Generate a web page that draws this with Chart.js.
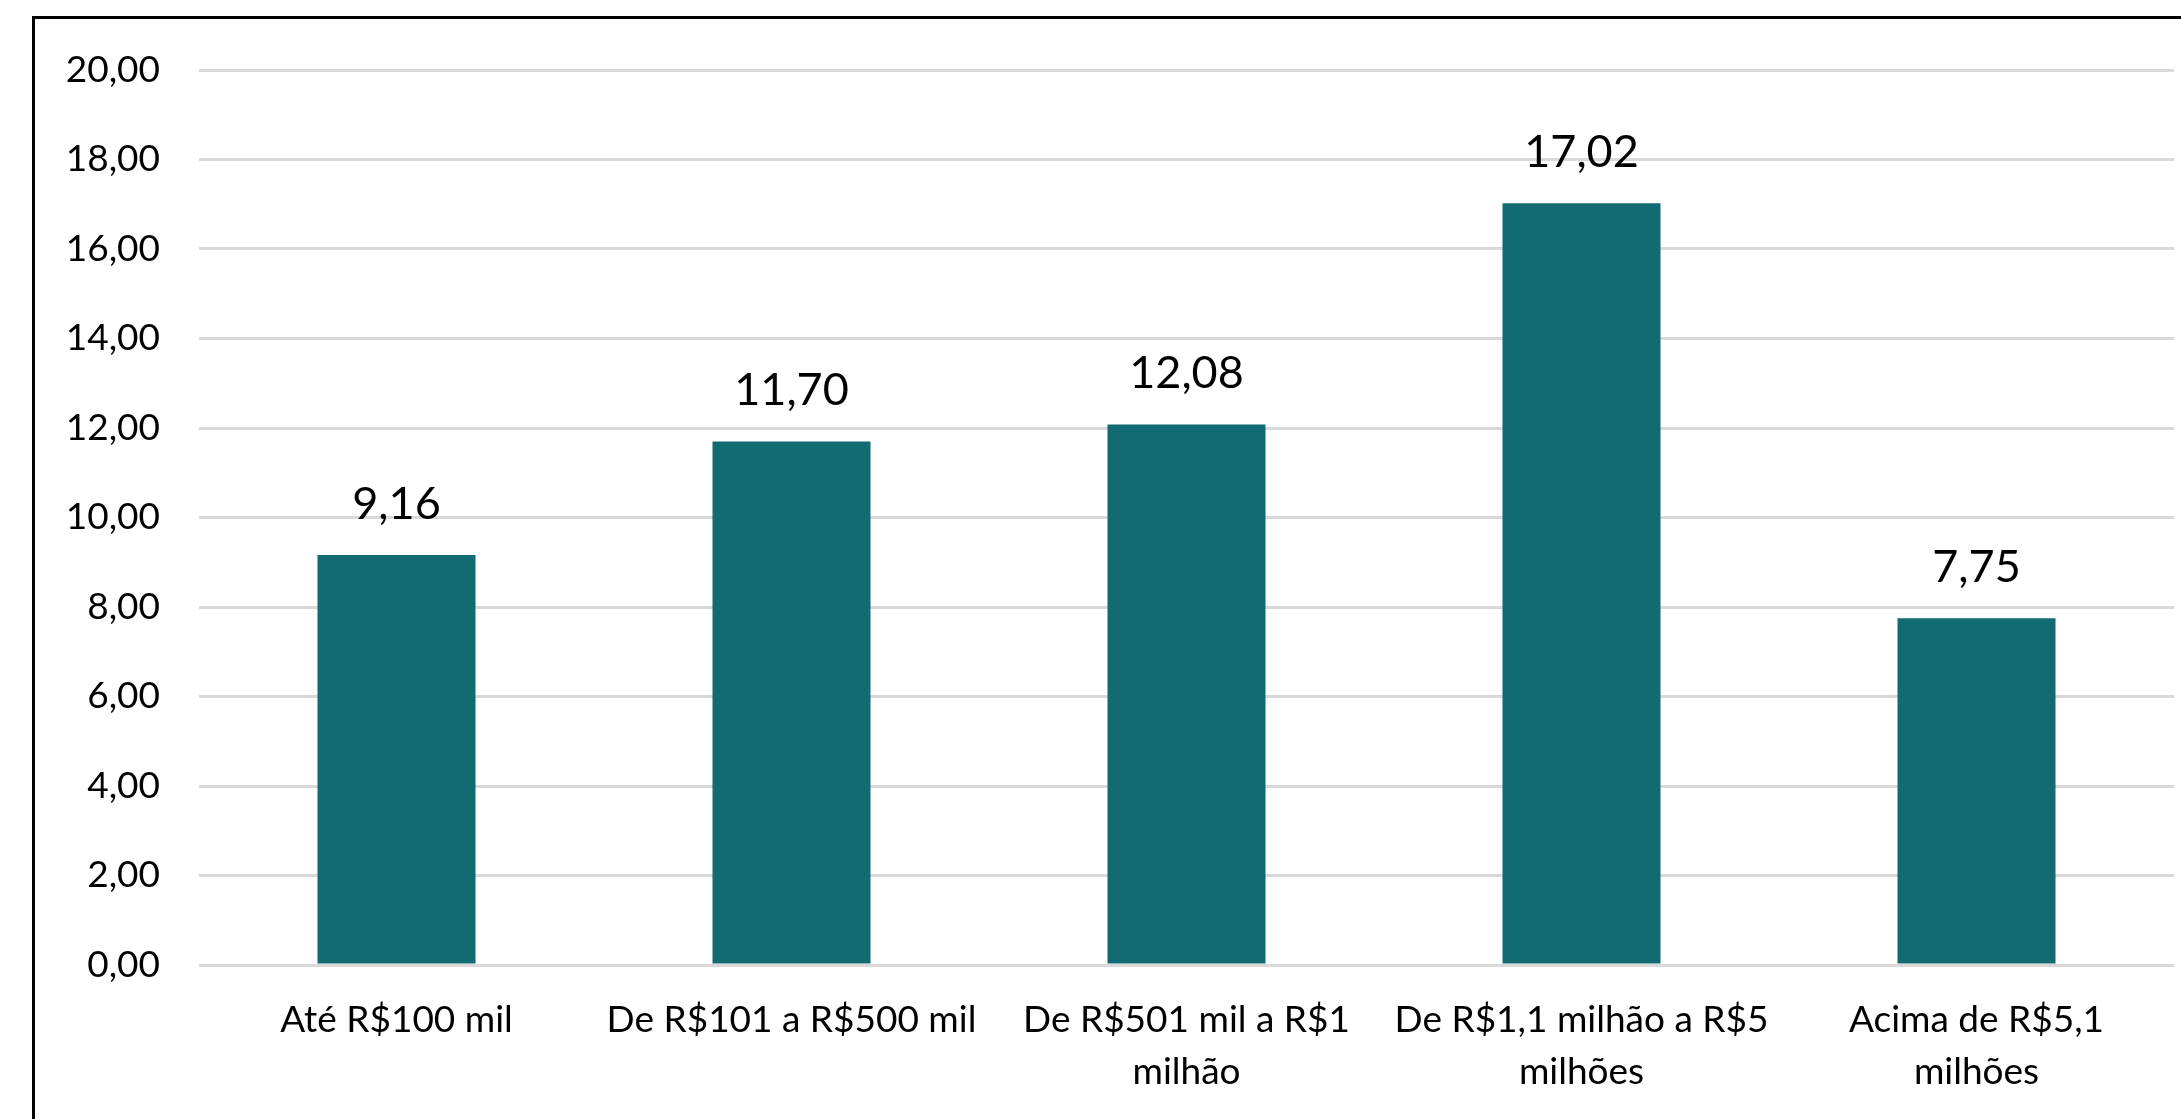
<!DOCTYPE html>
<html>
<head>
<meta charset="utf-8">
<script src="https://cdn.jsdelivr.net/npm/chart.js@4.4.1/dist/chart.umd.min.js"></script>
<style>
  html, body { margin: 0; padding: 0; background: #ffffff; }
  #wrap { width: 2181px; height: 1119px; position: relative; }
</style>
</head>
<body>
<div id="wrap"><canvas id="c" width="2181" height="1119"></canvas></div>
<script>
// Faixas de faturamento e valores do indicador
const categories = [
  'Até R$100 mil',
  'De R$101 a R$500 mil',
  ['De R$501 mil a R$1', 'milhão'],
  ['De R$1,1 milhão a R$5', 'milhões'],
  ['Acima de R$5,1', 'milhões']
];
const values = [9.16, 11.70, 12.08, 17.02, 7.75];
const yTicks = [0, 2, 4, 6, 8, 10, 12, 14, 16, 18, 20];

const fmt = v => v.toFixed(2).replace('.', ',');
const FONT = 'Lato, "Open Sans", sans-serif';

// Moldura do gráfico (cantos superior e esquerdo)
const framePlugin = {
  id: 'frame',
  afterDraw(chart) {
    const ctx = chart.ctx;
    ctx.save();
    ctx.strokeStyle = '#000000';
    ctx.lineWidth = 3;
    ctx.strokeRect(33.5, 17.5, chart.width + 20, chart.height + 20);
    ctx.restore();
  }
};

// Rótulos de valor acima de cada barra
const valueLabels = {
  id: 'valueLabels',
  afterDatasetsDraw(chart) {
    const ctx = chart.ctx;
    const meta = chart.getDatasetMeta(0);
    ctx.save();
    ctx.font = '45px ' + FONT;
    ctx.fillStyle = '#000000';
    ctx.textAlign = 'center';
    ctx.textBaseline = 'middle';
    meta.data.forEach((bar, i) => {
      ctx.fillText(fmt(values[i]), bar.x, bar.y - 51);
    });
    ctx.restore();
  }
};

new Chart(document.getElementById('c'), {
  type: 'bar',
  data: {
    labels: categories,
    datasets: [{
      data: values,
      backgroundColor: '#126A73',
      borderWidth: 0,
      categoryPercentage: 1.0,
      barPercentage: 0.4
    }]
  },
  options: {
    responsive: false,
    animation: false,
    devicePixelRatio: 1,
    layout: { padding: { top: 70, right: 7, left: 0, bottom: 0 } },
    plugins: { legend: { display: false }, tooltip: { enabled: false } },
    scales: {
      x: {
        grid: { display: false, drawTicks: false },
        border: { display: false },
        ticks: {
          color: '#000000',
          font: { family: FONT, size: 37, lineHeight: 1.38 },
          padding: 30,
          maxRotation: 0,
          autoSkip: false
        },
        afterFit(s) { s.height = 154; }
      },
      y: {
        min: 0,
        max: 20,
        afterBuildTicks(s) { s.ticks = yTicks.map(v => ({ value: v })); },
        grid: { color: '#D9D9D9', lineWidth: 3, drawTicks: false },
        border: { display: false },
        ticks: {
          color: '#000000',
          font: { family: FONT, size: 37 },
          padding: 39,
          callback: v => fmt(v)
        },
        afterFit(s) { s.width = 199; }
      }
    }
  },
  plugins: [framePlugin, valueLabels]
});
</script>
</body>
</html>
